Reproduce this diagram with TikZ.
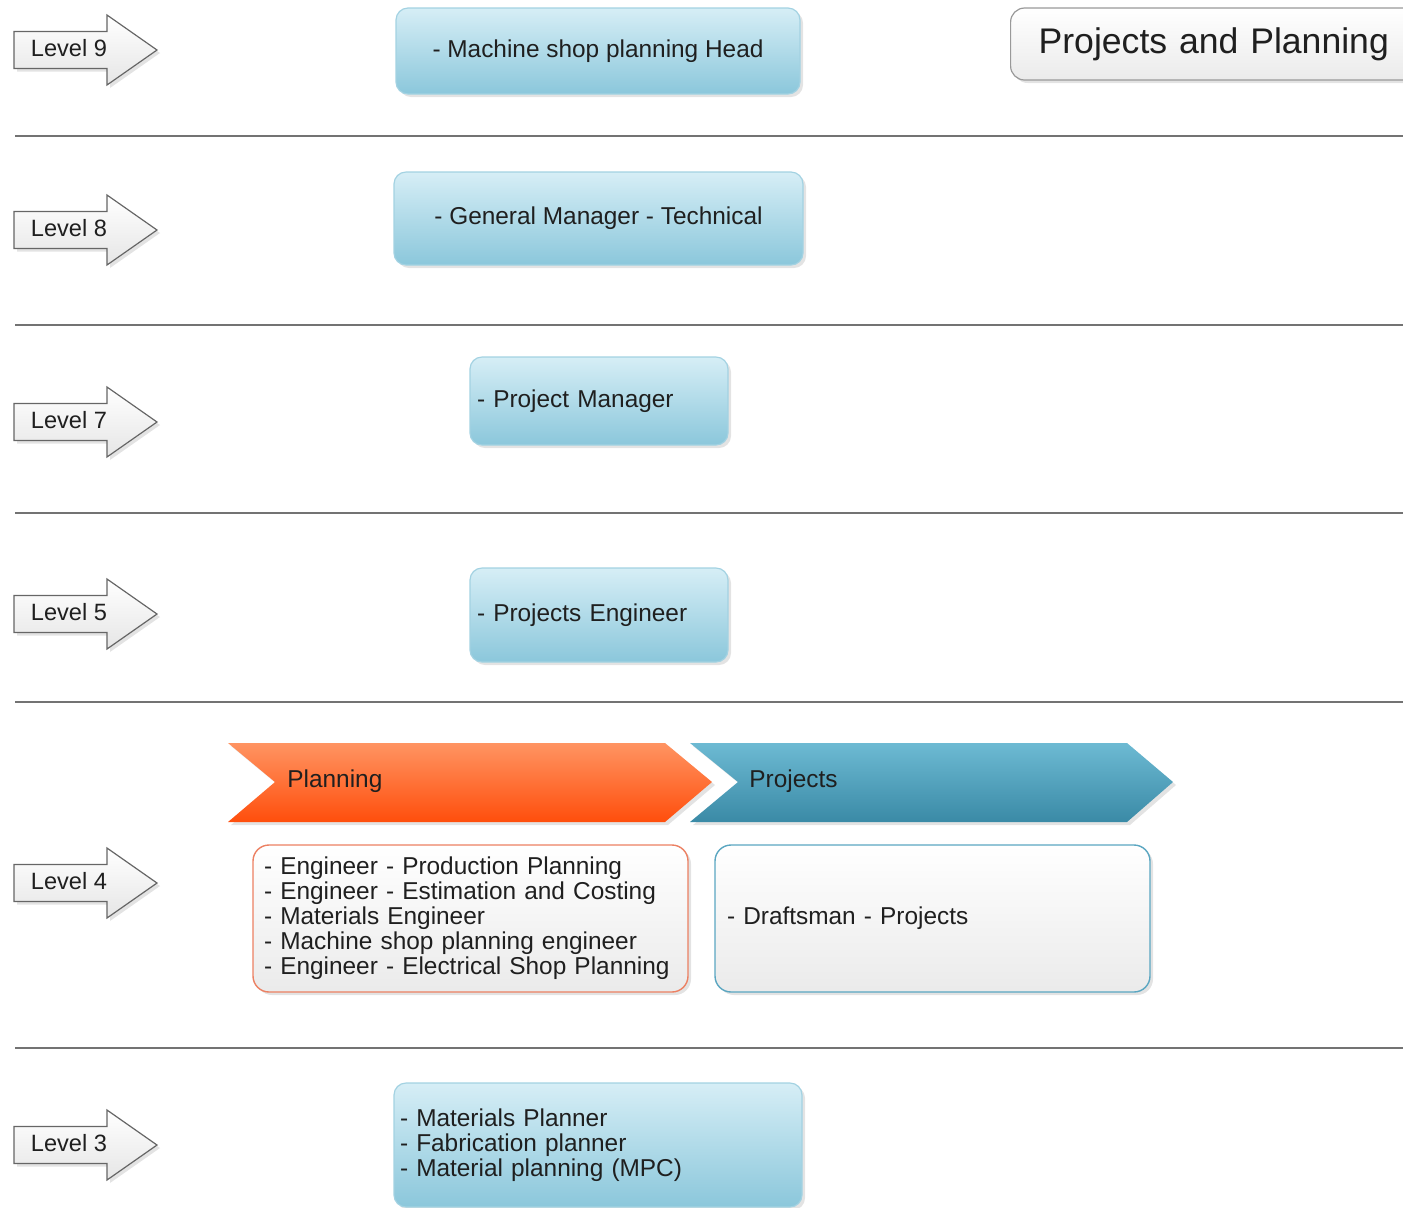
\documentclass[tikz,border=0pt]{standalone}
\usepackage{fontspec}
\setmainfont{Liberation Sans}
\usetikzlibrary{shadows,positioning}

\definecolor{roletop}{HTML}{D6EEF6}
\definecolor{rolebot}{HTML}{8BC7DB}
\definecolor{roleline}{HTML}{A3D2E2}
\definecolor{plantop}{HTML}{FF9462}
\definecolor{planbot}{HTML}{FF4E0C}
\definecolor{plandraw}{HTML}{EC8062}
\definecolor{projtop}{HTML}{6DBAD3}
\definecolor{projbot}{HTML}{3A8AA6}
\definecolor{projdraw}{HTML}{5AA6C1}

\begin{document}
\begin{tikzpicture}[x=0.5pt,y=-0.5pt,
        every node/.style={font=\fontsize{12.2}{12.5}\selectfont, text=black!88},
        softshadow/.style={drop shadow={shadow xshift=1.5pt,shadow yshift=-1.5pt,opacity=0.22}},
        levelarrow/.style={draw=black!60, line width=0.6pt, top color=white, bottom color=black!10, softshadow},
        rolebox/.style={rounded corners=6pt, draw=roleline, line width=0.6pt, top color=roletop, bottom color=rolebot, softshadow},
        listbox/.style={rounded corners=8pt, line width=0.7pt, top color=white, bottom color=black!8, softshadow, align=left},
        sepline/.style={draw=black!55, line width=1.2pt}]
    \useasboundingbox (0,0) rectangle (1403,1207);

    % separators between the levels
    \foreach \y in {136,325,513,702,1048}
        \draw[sepline] (15,\y) -- (1403,\y);

    % level markers
    \foreach \lv/\y in {9/50,8/230,7/422,5/614,4/883,3/1145} {
        \draw[levelarrow] (14,\y-18.5) -- (107,\y-18.5) -- (107,\y-35) -- (157,\y)
            -- (107,\y+35) -- (107,\y+18.5) -- (14,\y+18.5) -- cycle;
        \node[font=\fontsize{11.8}{12}\selectfont] (level\lv) at (69,\y-2) {Level \lv};
    }

    % title
    \node[anchor=west, rounded corners=7pt, draw=black!40, line width=0.6pt,
          top color=white, bottom color=black!8, softshadow,
          minimum height=36pt, text width=190pt, inner xsep=14pt,
          align=left, font=\fontsize{17.8}{20}\selectfont] (title) at (1010,44) {Projects and Planning};

    % roles per level
    \node[rolebox, minimum width=202pt, minimum height=43pt] (head) at (598,51) {- Machine shop planning Head};
    \node[rolebox, minimum width=204.5pt, minimum height=46.5pt] (gm) at (598.5,218.5) {- General Manager - Technical};
    \node[rolebox, minimum height=44pt, text width=122pt, inner xsep=3.5pt, align=left] (pm) at (599,401) {- Project Manager};
    \node[rolebox, minimum height=47pt, text width=122pt, inner xsep=3.5pt, align=left] (pe) at (599,615) {- Projects Engineer};
    \node[rolebox, minimum height=62pt, text width=198pt, inner xsep=3pt, align=left] (planners) at (598,1145)
        {- Materials Planner\\- Fabrication planner\\- Material planning (MPC)};

    % level 4: planning and projects
    \shade[top color=plantop, bottom color=planbot, softshadow]
        (228,743) -- (665,743) -- (712,782) -- (665,822) -- (228,822) -- (275,782) -- cycle;
    \shade[top color=projtop, bottom color=projbot, softshadow]
        (690,743) -- (1127,743) -- (1173,782) -- (1127,822) -- (690,822) -- (738,782) -- cycle;
    \node[anchor=west, inner sep=0pt] (planning) at (287,781) {Planning};
    \node[anchor=west, inner sep=0pt] (projects) at (749,781) {Projects};

    \node[listbox, draw=plandraw, minimum height=73.5pt, text width=206.5pt, inner xsep=5.5pt] (planlist) at (470.5,918.5)
        {- Engineer - Production Planning\\- Engineer - Estimation and Costing\\- Materials Engineer\\
         - Machine shop planning engineer\\- Engineer - Electrical Shop Planning};
    \node[listbox, draw=projdraw, minimum height=73.5pt, text width=205.5pt, inner xsep=6pt] (projlist) at (932.5,918.5)
        {- Draftsman - Projects};
\end{tikzpicture}
\end{document}
